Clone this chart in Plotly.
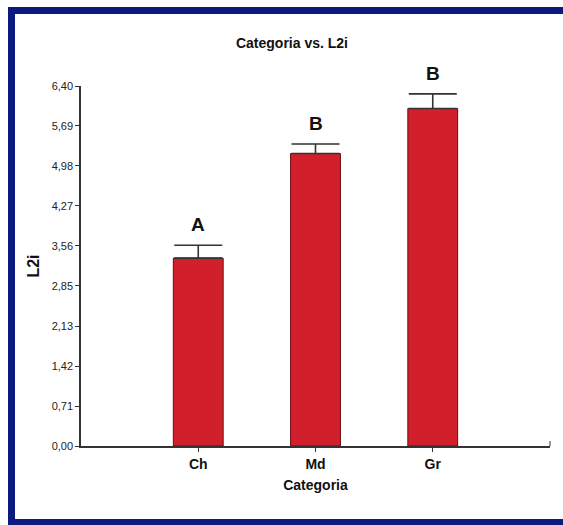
import plotly.graph_objects as go

# Mean L2i per category, with upper standard error and grouping letters
categories = ["Ch", "Md", "Gr"]
means = [3.34, 5.20, 6.00]
errors = [0.23, 0.17, 0.26]
groups = ["A", "B", "B"]

# Y-axis ticks: nine equal steps up to 6.40, written with a decimal comma
tick_values = [0.00, 0.71, 1.42, 2.13, 2.85, 3.56, 4.27, 4.98, 5.69, 6.40]
tick_labels = ["0,00", "0,71", "1,42", "2,13", "2,85", "3,56", "4,27", "4,98", "5,69", "6,40"]

SANS = "Liberation Sans, Arial, sans-serif"
BAR_RED = "#d21f2c"
NAVY = "#0c1a80"
AXIS = "#333333"
INK = "#111111"

W, H = 563, 525
L, R, T, B = 81, 13, 86, 79
PW, PH = W - L - R, H - T - B


def px_x(p):
    return (p - L) / PW


def px_y(p):
    return (H - B - p) / PH


fig = go.Figure()
fig.add_trace(go.Bar(
    x=categories,
    y=means,
    width=0.425,
    marker=dict(color=BAR_RED, line=dict(color="#6a0c12", width=1)),
    error_y=dict(type="data", array=errors, arrayminus=[0] * len(errors),
                 symmetric=False, color=AXIS, thickness=1.6, width=24),
    hoverinfo="x+y",
))

for cat, m, e, g in zip(categories, means, errors, groups):
    fig.add_annotation(x=cat, y=m + e, text=g, showarrow=False,
                       yanchor="bottom", yshift=8,
                       font=dict(family=SANS, size=19, color=INK, weight="bold"))

# Small closing tick at the right end of the category axis
fig.add_shape(type="line", xref="paper", yref="paper",
              x0=1, x1=1, y0=0, y1=5 / PH,
              line=dict(color=AXIS, width=1))


def band(x0, x1, y0, y1):
    """Filled navy strip given in page pixels (y measured downward)."""
    fig.add_shape(type="rect", xref="paper", yref="paper",
                  x0=px_x(x0), x1=px_x(x1), y0=px_y(y1), y1=px_y(y0),
                  fillcolor=NAVY, line=dict(width=0), layer="below")


# Navy frame: top and bottom strips, plus the left edge between them
band(8, W, 7, 14)
band(8, W, 519, H)
fig.add_shape(type="line", xref="paper", yref="paper",
              x0=px_x(11.5), x1=px_x(11.5), y0=px_y(14), y1=px_y(519),
              line=dict(color=NAVY, width=7), layer="below")

fig.update_layout(
    width=W, height=H,
    margin=dict(l=L, r=R, t=T, b=B, pad=0),
    paper_bgcolor="white",
    plot_bgcolor="white",
    showlegend=False,
    title=dict(text="Categoria vs. L2i", xref="container", x=292 / W,
               xanchor="center", y=1 - 43 / H, yanchor="middle",
               font=dict(family=SANS, size=14, color=INK, weight="bold")),
    xaxis=dict(
        type="category",
        range=[-1, 3],
        showline=True, linecolor=AXIS, linewidth=1.5,
        ticks="outside", ticklen=4, tickcolor=AXIS, tickwidth=1,
        showgrid=False, zeroline=False,
        tickfont=dict(family=SANS, size=14, color=INK, weight="bold"),
        title=dict(text="Categoria", standoff=10,
                   font=dict(family=SANS, size=14, color=INK, weight="bold")),
    ),
    yaxis=dict(
        range=[0, 6.40],
        tickvals=tick_values, ticktext=tick_labels,
        showline=True, linecolor=AXIS, linewidth=1.5,
        ticks="outside", ticklen=4, tickcolor=AXIS, tickwidth=1,
        showgrid=False, zeroline=False,
        tickfont=dict(family=SANS, size=11, color="#222222"),
        title=dict(text="L2i", standoff=8,
                   font=dict(family=SANS, size=16, color=INK, weight="bold")),
    ),
)

fig.write_html("out.html")
